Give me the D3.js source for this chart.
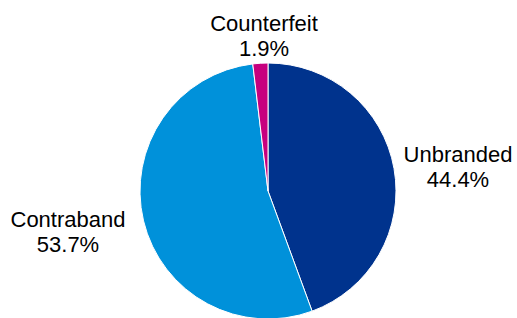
<html>
  <head>
    <style>
      body { margin: 0; background: white; }
      text { font-family: "Liberation Sans", Arial, sans-serif; font-size: 22px; fill: #000; }
    </style>
  </head>
  <body>
    <script src="https://d3js.org/d3.v7.min.js"></script>
    <script>
    var categories = ["Unbranded", "Contraband", "Counterfeit"];
    var values = [44.4, 53.7, 1.9];
    var colors = ["#00338d", "#0091da", "#c6007e"];

    var width = 517, height = 318, cx = 268, cy = 191, radius = 128;

    var svg = d3.select("body").append("svg")
        .attr("width", width)
        .attr("height", height);

    var data = categories.map(function(c, i) { return {name: c, value: values[i], color: colors[i]}; });

    var pie = d3.pie().sort(null).value(function(d) { return d.value; });
    var arc = d3.arc().innerRadius(0).outerRadius(radius);

    var g = svg.append("g").attr("transform", "translate(" + cx + "," + cy + ")");

    g.selectAll("path")
      .data(pie(data))
      .enter().append("path")
        .attr("d", arc)
        .attr("fill", function(d) { return d.data.color; })
        .attr("stroke", "white")
        .attr("stroke-width", 1);

    // label positions
    var labelPos = {
      "Unbranded": [458, 162],
      "Contraband": [68, 227],
      "Counterfeit": [264, 31]
    };

    var labels = svg.selectAll("text.lbl")
      .data(data)
      .enter().append("text")
        .attr("class", "lbl")
        .attr("text-anchor", "middle")
        .attr("x", function(d) { return labelPos[d.name][0]; })
        .attr("y", function(d) { return labelPos[d.name][1]; });

    labels.append("tspan").text(function(d) { return d.name; });
    labels.append("tspan")
        .attr("x", function(d) { return labelPos[d.name][0]; })
        .attr("dy", 25)
        .text(function(d) { return d.value.toFixed(1) + "%"; });
    </script>
  </body>
</html>
